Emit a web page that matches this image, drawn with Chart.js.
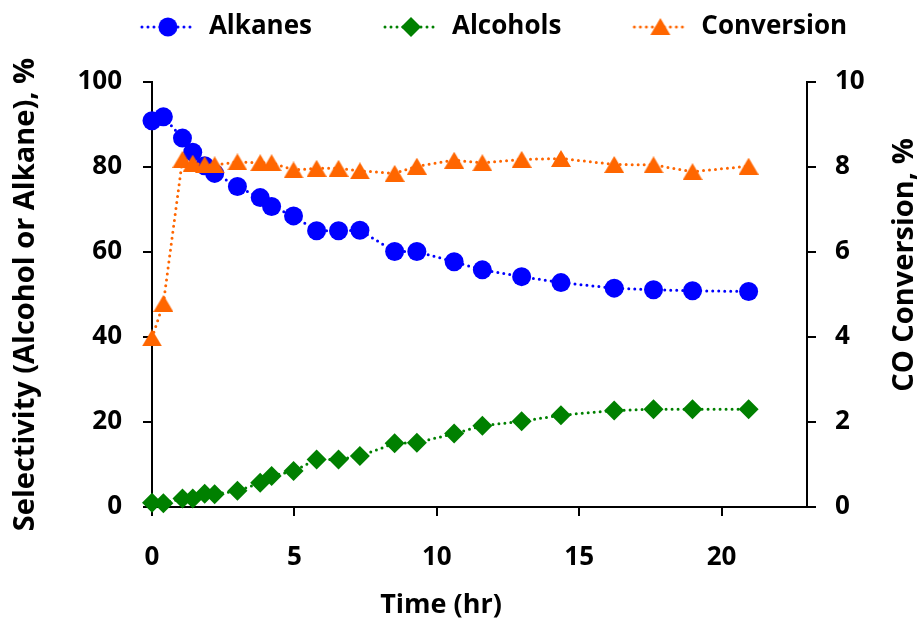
<!DOCTYPE html>
<html>
<head>
<meta charset="utf-8">
<script src="https://cdn.jsdelivr.net/npm/chart.js@4.4.0/dist/chart.umd.min.js"></script>
<style>
  html, body { margin: 0; padding: 0; background: #fff; }
  #wrap { width: 922px; height: 623px; }
</style>
</head>
<body>
<div id="wrap"><canvas id="chart" width="922" height="623"></canvas></div>
<script>
// values
const timeHr = [0, 0.4, 1.07, 1.43, 1.85, 2.2, 3.0, 3.8, 4.2, 4.97, 5.78, 6.55, 7.3, 8.52, 9.3, 10.61, 11.6, 12.98, 14.36, 16.23, 17.61, 18.98, 20.95];
const alkanes = [90.9, 91.8, 86.8, 83.5, 80.3, 78.5, 75.4, 72.8, 70.7, 68.5, 65.0, 65.0, 65.1, 60.1, 60.1, 57.7, 55.8, 54.2, 52.8, 51.5, 51.1, 50.9, 50.7];
const alcohols = [1.0, 0.9, 2.0, 2.0, 3.1, 3.0, 3.8, 5.7, 7.3, 8.5, 11.2, 11.2, 12.0, 15.0, 15.1, 17.3, 19.1, 20.2, 21.6, 22.7, 23.0, 23.0, 23.0];
const conversion = [3.98, 4.79, 8.18, 8.09, 8.05, 8.05, 8.12, 8.10, 8.10, 7.93, 7.97, 7.97, 7.91, 7.85, 8.02, 8.16, 8.10, 8.18, 8.20, 8.06, 8.05, 7.89, 8.02];

const seriesNames = ['Alkanes', 'Alcohols', 'Conversion'];
const xTitle = 'Time (hr)';
const yTitle = 'Selectivity (Alcohol or Alkane), %';
const y2Title = 'CO Conversion, %';

const BLUE = '#0000FF';
const GREEN = '#008000';
const ORANGE = '#FF6600';
const FONT = { family: 'Open Sans', weight: 'bold', size: 26 };
const Y_TITLE_FONT = { family: 'Open Sans', weight: 'bold', size: 29 };

function points(ys) {
  return timeHr.map((t, i) => ({ x: t, y: ys[i] }));
}

// triangle centred on its bounding box (like the spreadsheet marker)
function triangleMarker(w, h, color) {
  const c = document.createElement('canvas');
  c.width = w; c.height = h;
  const g = c.getContext('2d');
  g.fillStyle = color;
  g.beginPath();
  g.moveTo(w / 2, 0);
  g.lineTo(w, h);
  g.lineTo(0, h);
  g.closePath();
  g.fill();
  return c;
}

// legend icon: dotted line with the marker in the middle, blank gap on the left
function legendIcon(kind, color, gap) {
  const lineLen = 56;
  const c = document.createElement('canvas');
  c.width = gap + lineLen; c.height = 24;
  const g = c.getContext('2d');
  const cy = 12;
  g.strokeStyle = color;
  g.lineWidth = 3;
  g.lineCap = 'round';
  g.setLineDash([0, 6]);
  g.beginPath();
  g.moveTo(gap + 2, cy);
  g.lineTo(gap + lineLen - 1, cy);
  g.stroke();
  const cx = gap + lineLen / 2;
  g.fillStyle = color;
  g.beginPath();
  if (kind === 'circle') {
    g.arc(cx, cy, 9.5, 0, Math.PI * 2);
  } else if (kind === 'diamond') {
    g.moveTo(cx, cy - 10); g.lineTo(cx + 10, cy); g.lineTo(cx, cy + 10); g.lineTo(cx - 10, cy);
  } else {
    g.moveTo(cx, cy - 9); g.lineTo(cx + 10, cy + 8); g.lineTo(cx - 10, cy + 8);
  }
  g.closePath();
  g.fill();
  return c;
}

const LEGEND_GAP = 65;
const legendIcons = [
  legendIcon('circle', BLUE, LEGEND_GAP),
  legendIcon('diamond', GREEN, LEGEND_GAP),
  legendIcon('triangle', ORANGE, LEGEND_GAP)
];

// extra room between the legend and the plot
const legendSpacer = {
  id: 'legendSpacer',
  beforeInit(chart) {
    const fit = chart.legend.fit;
    chart.legend.fit = function () {
      fit.call(this);
      this.height += 32;
    };
  }
};

const sideTitles = {
  id: 'sideTitles',
  afterDraw(chart) {
    const ctx = chart.ctx;
    ctx.save();
    ctx.fillStyle = '#000';
    ctx.textAlign = 'center';
    ctx.textBaseline = 'middle';
    ctx.font = 'bold 27px "Open Sans"';
    ctx.fillText(xTitle, 441, 605);
    ctx.font = 'bold 29px "Open Sans"';
    ctx.translate(905, 265);
    ctx.rotate(-Math.PI / 2);
    ctx.fillText(y2Title, 0, 0);
    ctx.restore();
  }
};

const lineStyle = {
  borderWidth: 3,
  borderDash: [0, 6],
  borderCapStyle: 'round',
  pointBorderWidth: 0,
  clip: false,
  tension: 0
};

new Chart(document.getElementById('chart'), {
  type: 'line',
  data: {
    datasets: [
      {
        ...lineStyle,
        label: seriesNames[0],
        data: points(alkanes),
        yAxisID: 'y',
        borderColor: BLUE,
        backgroundColor: BLUE,
        pointStyle: 'circle',
        pointRadius: 9.5,
        order: 1
      },
      {
        ...lineStyle,
        label: seriesNames[1],
        data: points(alcohols),
        yAxisID: 'y',
        borderColor: GREEN,
        backgroundColor: GREEN,
        pointStyle: 'rectRot',
        pointRadius: 10,
        order: 2
      },
      {
        ...lineStyle,
        label: seriesNames[2],
        data: points(conversion),
        yAxisID: 'y1',
        borderColor: ORANGE,
        backgroundColor: ORANGE,
        pointStyle: triangleMarker(20, 17, ORANGE),
        pointRadius: 10,
        order: 0
      }
    ]
  },
  options: {
    responsive: false,
    animation: false,
    devicePixelRatio: 1,
    layout: { padding: { top: 8, left: 0, right: 0, bottom: 0 } },
    plugins: {
      tooltip: { enabled: false },
      legend: {
        position: 'top',
        labels: {
          usePointStyle: true,
          pointStyleWidth: LEGEND_GAP + 56,
          padding: 6,
          color: '#000',
          font: FONT,
          generateLabels: chart => Chart.defaults.plugins.legend.labels.generateLabels(chart)
            .map(item => ({ ...item, pointStyle: legendIcons[item.datasetIndex] }))
            .sort((a, b) => a.datasetIndex - b.datasetIndex)
        }
      }
    },
    scales: {
      x: {
        type: 'linear',
        min: 0,
        max: 23,
        ticks: { stepSize: 5, padding: 26, color: '#000', font: FONT, maxRotation: 0 },
        grid: { drawOnChartArea: false, tickLength: 9, color: '#000', lineWidth: 2 },
        border: { color: '#000', width: 2 },
        afterBuildTicks: s => { s.ticks = s.ticks.filter(t => t.value % 5 === 0); },
        afterFit: s => { s.height = 116; }
      },
      y: {
        position: 'left',
        min: 0,
        max: 100,
        ticks: { stepSize: 20, padding: 21, color: '#000', font: FONT },
        grid: { drawOnChartArea: false, tickLength: 9, color: '#000', lineWidth: 2 },
        border: { color: '#000', width: 2 },
        title: { display: true, text: yTitle, color: '#000', font: Y_TITLE_FONT, padding: { top: 8, bottom: 0 } },
        afterFit: s => { s.width = 152; }
      },
      y1: {
        position: 'right',
        min: 0,
        max: 10,
        ticks: { stepSize: 2, padding: 19, color: '#000', font: FONT },
        grid: { drawOnChartArea: false, tickLength: 9, color: '#000', lineWidth: 2 },
        border: { color: '#000', width: 2 },
        afterFit: s => { s.width = 115; }
      }
    }
  },
  plugins: [legendSpacer, sideTitles]
});
</script>
</body>
</html>
